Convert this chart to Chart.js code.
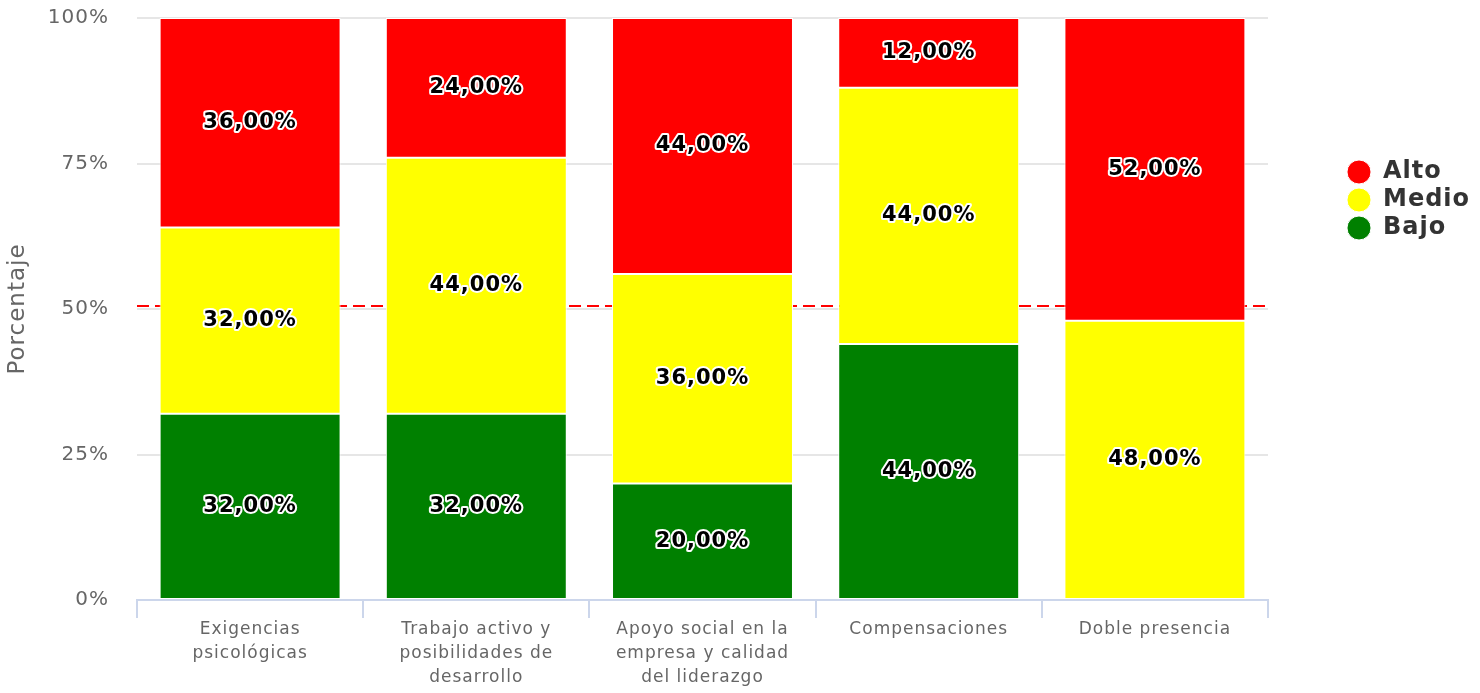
<!DOCTYPE html>
<html>
<head>
<meta charset="utf-8">
<script src="https://cdn.jsdelivr.net/npm/chart.js@4/dist/chart.umd.min.js"></script>
<style>
    body { margin: 0; background: #fff; }
    #wrap { width: 1480px; height: 693px; }
</style>
</head>
<body>
<div id="wrap"><canvas id="myChart" width="1480" height="693"></canvas></div>
<script>
const categories = [
    ['Exigencias', 'psicológicas'],
    ['Trabajo activo y', 'posibilidades de', 'desarrollo'],
    ['Apoyo social en la', 'empresa y calidad', 'del liderazgo'],
    'Compensaciones',
    'Doble presencia'
];
const bajo = [32, 32, 20, 44, 0];
const medio = [32, 44, 36, 44, 48];
const alto = [36, 24, 44, 12, 52];
const yTicks = [0, 25, 50, 75, 100];
const referenceValue = 50.5;

// espaciado de letras en todo el canvas
const spacingPlugin = {
    id: 'spacing',
    beforeUpdate(chart) { chart.ctx.letterSpacing = '1px'; },
    beforeLayout(chart) {
        chart.ctx.letterSpacing = '1px';
        const lg = chart.legend;
        if (lg && !lg._patched) {
            const fit = lg.fit;
            lg.fit = function () {
                fit.call(this);
                this.width = 212;
            };
            lg._patched = true;
        }
    },
    afterLayout(chart) {
        // mover la leyenda a su sitio
        const lg = chart.legend;
        if (lg) {
            lg.left += 75;
            lg.top += 138;
        }
    },
    beforeDraw(chart) { chart.ctx.letterSpacing = '1px'; }
};

// linea de referencia discontinua
const refLinePlugin = {
    id: 'refLine',
    beforeDatasetsDraw(chart) {
        const { ctx, chartArea, scales } = chart;
        const y = scales.y.getPixelForValue(referenceValue);
        ctx.save();
        ctx.strokeStyle = '#ff0000';
        ctx.lineWidth = 2;
        ctx.setLineDash([12, 6]);
        ctx.beginPath();
        ctx.moveTo(chartArea.left, y);
        ctx.lineTo(chartArea.right, y);
        ctx.stroke();
        ctx.restore();
    }
};

// etiquetas de valor en cada segmento
const valueLabelsPlugin = {
    id: 'valueLabels',
    afterDatasetsDraw(chart) {
        const ctx = chart.ctx;
        ctx.save();
        ctx.font = 'bold 21px "DejaVu Sans"';
        ctx.letterSpacing = '1px';
        ctx.textAlign = 'center';
        ctx.textBaseline = 'middle';
        ctx.lineJoin = 'round';
        chart.data.datasets.forEach((ds, i) => {
            const meta = chart.getDatasetMeta(i);
            meta.data.forEach((bar, j) => {
                const v = ds.data[j];
                if (!v) return;
                const txt = v.toFixed(2).replace('.', ',') + '%';
                const yc = (bar.y + bar.base) / 2;
                ctx.strokeStyle = '#ffffff';
                ctx.lineWidth = 4;
                ctx.strokeText(txt, bar.x, yc);
                ctx.fillStyle = '#000000';
                ctx.fillText(txt, bar.x, yc);
            });
        });
        ctx.restore();
    }
};

function drawChart() {
    const data = {
        labels: categories,
        datasets: [
            { label: 'Bajo', data: bajo, backgroundColor: '#008000' },
            { label: 'Medio', data: medio, backgroundColor: '#ffff00' },
            { label: 'Alto', data: alto, backgroundColor: '#ff0000' }
        ]
    };
    data.datasets.forEach(ds => {
        ds.borderColor = '#ffffff';
        ds.borderWidth = 1;
        ds.borderSkipped = false;
        ds.barPercentage = 0.8;
        ds.categoryPercentage = 1.0;
    });

    const ctx = document.getElementById('myChart').getContext('2d');
    new Chart(ctx, {
        type: 'bar',
        data: data,
        plugins: [spacingPlugin, refLinePlugin, valueLabelsPlugin],
        options: {
            responsive: false,
            animation: false,
            layout: { padding: { top: 18, right: 0, left: 0, bottom: 0 } },
            plugins: {
                tooltip: { enabled: false },
                legend: {
                    position: 'right',
                    align: 'start',
                    reverse: true,
                    labels: {
                        usePointStyle: true,
                        pointStyle: 'circle',
                        boxWidth: 24,
                        boxHeight: 17,
                        padding: 4,
                        color: '#333333',
                        font: { family: 'DejaVu Sans', size: 24, weight: 'bold' }
                    }
                }
            },
            scales: {
                x: {
                    stacked: true,
                    afterFit(scale) { scale.height = 93; },
                    grid: {
                        offset: true,
                        drawOnChartArea: false,
                        drawTicks: true,
                        tickLength: 18,
                        color: '#ccd6eb',
                        lineWidth: 2
                    },
                    border: { display: true, color: '#ccd6eb', width: 2 },
                    ticks: {
                        color: '#666666',
                        padding: 0,
                        maxRotation: 0,
                        autoSkip: false,
                        font: { family: 'DejaVu Sans', size: 17, lineHeight: 1.41 }
                    }
                },
                y: {
                    stacked: true,
                    min: 0,
                    max: 100,
                    afterBuildTicks(axis) {
                        axis.ticks = yTicks.map(v => ({ value: v }));
                    },
                    afterFit(scale) {
                        scale.width = 137;
                        scale.paddingTop = 10;
                        scale.paddingBottom = 0;
                    },
                    grid: { color: '#e6e6e6', lineWidth: 2, drawTicks: false },
                    border: { display: false },
                    ticks: {
                        color: '#666666',
                        padding: 28,
                        font: { family: 'DejaVu Sans', size: 20 },
                        callback: v => v + '%'
                    },
                    title: {
                        display: true,
                        text: 'Porcentaje',
                        color: '#666666',
                        padding: { top: 4, bottom: 0 },
                        font: { family: 'DejaVu Sans', size: 23 }
                    }
                }
            }
        }
    });
}
drawChart();
</script>
</body>
</html>
